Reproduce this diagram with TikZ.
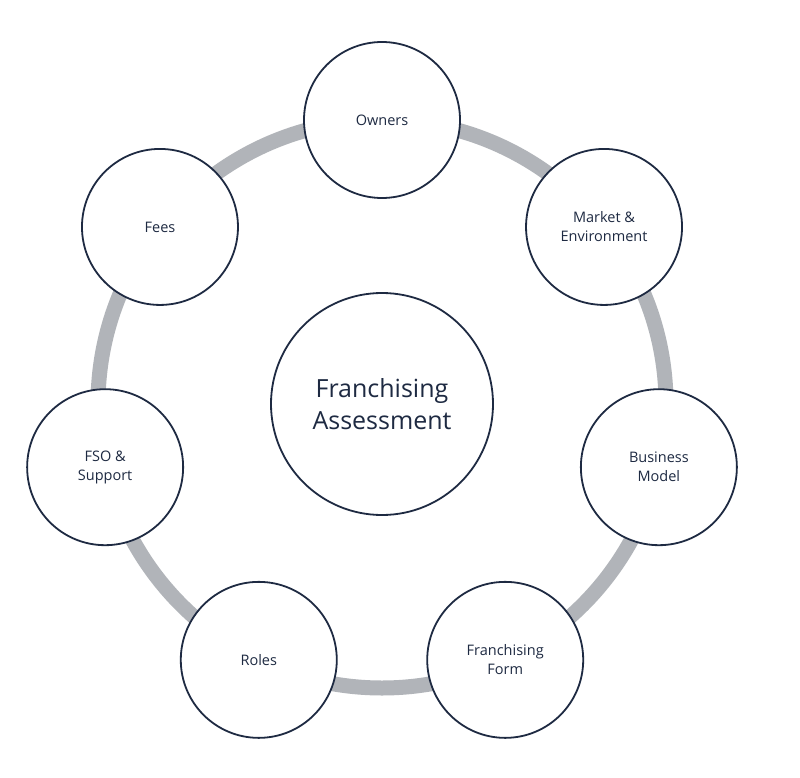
\documentclass[tikz,border=0pt]{standalone}
\usepackage{fontspec}
\setmainfont{Open Sans}
\usetikzlibrary{calc}
\begin{document}
\begin{tikzpicture}[x=1pt,y=-1pt,
  sat/.style={circle,draw=navy,line width=1.8pt,fill=white,minimum size=156pt,inner sep=0pt,
    align=center,text=navy,font=\fontsize{14.5}{19}\selectfont},
  hub/.style={circle,draw=navy,line width=1.8pt,fill=white,minimum size=222pt,inner sep=0pt,
    align=center,text=navy,font=\fontsize{25}{32}\selectfont}]
\definecolor{navy}{HTML}{1E2A42}
\definecolor{ring}{HTML}{B1B4B9}
\useasboundingbox[fill=white] (0,0) rectangle (800,778);
\coordinate (c) at (382,404);
\draw[ring,line width=15pt] (c) circle (284);
\node[hub] (h) at (c) {Franchising\\Assessment};
\foreach \n/\t [count=\i from 0] in {o/Owners,m/Market \&\\Environment,b/Business\\Model,f/Franchising\\Form,r/Roles,s/FSO \&\\Support,e/Fees}{
  \node[sat] (\n) at ($(c)+({90-\i*360/7}:284 and -284)$) {\t};
}
\end{tikzpicture}
\end{document}
